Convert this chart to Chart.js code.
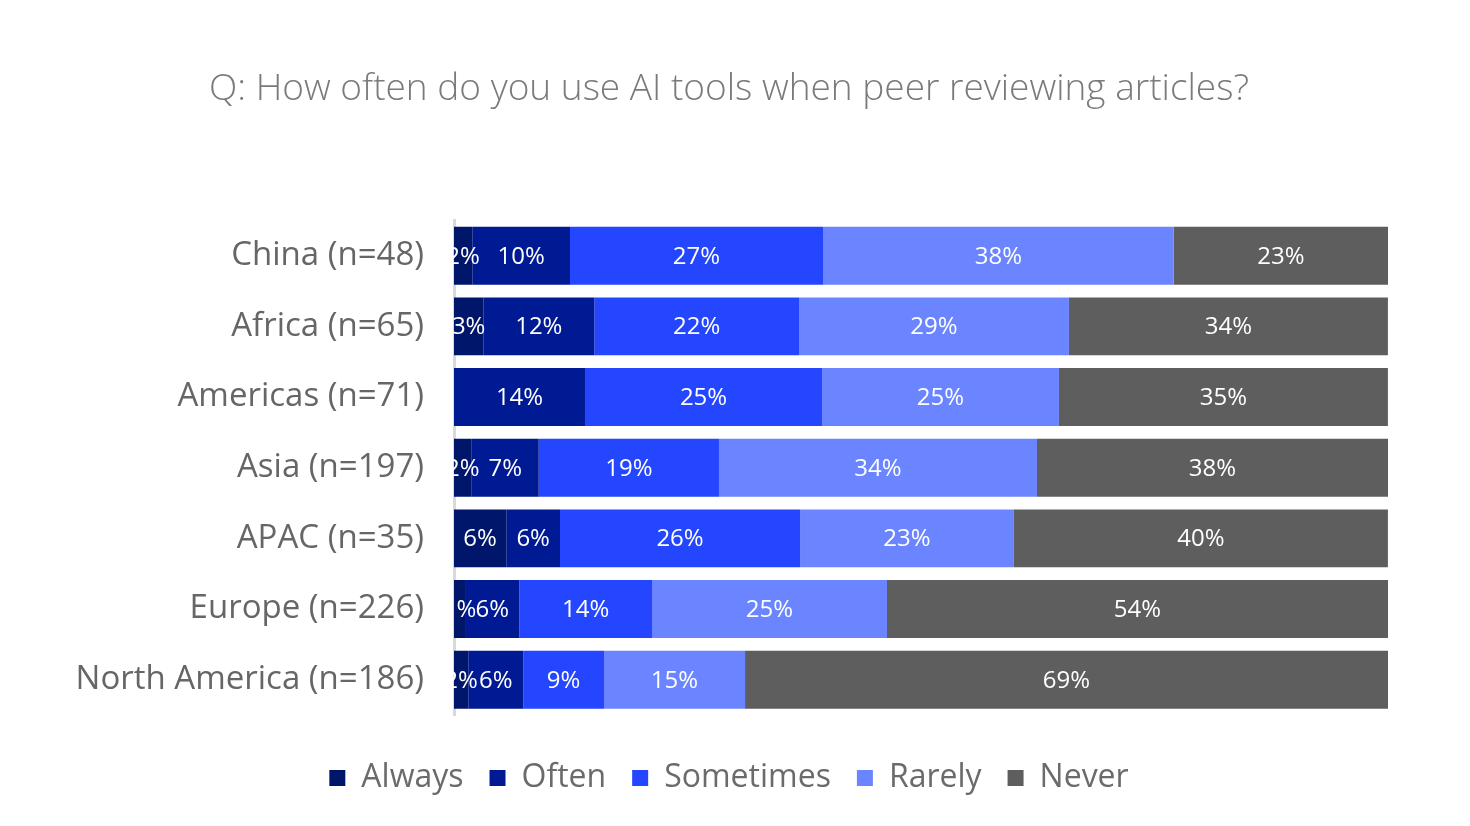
<!DOCTYPE html>
<html>
<head>
<meta charset="utf-8">
<script src="https://cdn.jsdelivr.net/npm/chart.js@4/dist/chart.umd.min.js"></script>
<style>
  html, body { margin: 0; padding: 0; background: #ffffff; }
  #wrap { width: 1470px; height: 826px; }
</style>
</head>
<body>
<div id="wrap"><canvas id="c" width="1470" height="826"></canvas></div>
<script>
const titleText = "Q: How often do you use AI tools when peer reviewing articles?";
const categories = ["China (n=48)", "Africa (n=65)", "Americas (n=71)", "Asia (n=197)", "APAC (n=35)", "Europe (n=226)", "North America (n=186)"];
const seriesNames = ["Always", "Often", "Sometimes", "Rarely", "Never"];
const always    = [1.96, 3.14, 0,     1.90,  5.60,  1.18,  1.53];
const often     = [10.46, 11.88, 14.03, 7.17, 5.75, 5.82,  5.89];
const sometimes = [27.09, 21.92, 25.37, 19.30, 25.70, 14.20, 8.64];
const rarely    = [37.55, 28.90, 25.37, 34.05, 22.90, 25.16, 15.10];
const never     = [22.94, 34.15, 35.22, 37.58, 40.04, 53.64, 68.84];
const seriesColors = ["#00166b", "#001a94", "#2446ff", "#6a85ff", "#5e5e5e"];

const FONT = "'Open Sans', Lato, 'DejaVu Sans', sans-serif";

const labelPlugin = {
  id: 'segLabels',
  afterDatasetsDraw(chart) {
    const ctx = chart.ctx;
    ctx.save();
    ctx.font = "24px " + FONT;
    ctx.fillStyle = "#ffffff";
    ctx.textAlign = "center";
    ctx.textBaseline = "middle";
    chart.data.datasets.forEach((ds, di) => {
      const meta = chart.getDatasetMeta(di);
      meta.data.forEach((el, i) => {
        const v = ds.data[i];
        if (!v) return;
        const x = (el.x + el.base) / 2;
        ctx.fillText(Math.round(v) + "%", x, el.y + 1);
      });
    });
    ctx.restore();
  }
};

const allSeries = [always, often, sometimes, rarely, never];

new Chart(document.getElementById('c'), {
  type: 'bar',
  data: {
    labels: categories,
    datasets: seriesNames.map((n, i) => ({
      label: n,
      data: allSeries[i],
      backgroundColor: seriesColors[i],
      borderWidth: 0,
      barPercentage: 0.82,
      categoryPercentage: 1.0
    }))
  },
  options: {
    indexAxis: 'y',
    responsive: false,
    animation: false,
    layout: { padding: { top: 67, bottom: 22, left: 70, right: 82 } },
    scales: {
      x: {
        stacked: true, min: 0, max: 100, display: true,
        ticks: { display: false },
        grid: { display: false, drawTicks: false },
        border: { display: false },
        afterFit(scale) { scale.height = 21; }
      },
      y: {
        stacked: true,
        grid: { display: false, drawTicks: false },
        border: { display: true, color: "#d9d9d9", width: 3 },
        ticks: { color: "#666666", font: { family: FONT, size: 33 }, padding: 30 },
        afterFit(scale) { scale.width = 384; }
      }
    },
    plugins: {
      title: {
        display: true,
        text: titleText,
        color: "#7a7a7a",
        font: { family: FONT, size: 37, weight: 300 },
        padding: { top: 0, bottom: 109 }
      },
      legend: {
        position: 'bottom',
        labels: {
          color: "#6b6b6b",
          font: { family: FONT, size: 32 },
          boxWidth: 16,
          boxHeight: 16,
          padding: 26
        }
      },
      tooltip: { enabled: false }
    }
  },
  plugins: [labelPlugin]
});
</script>
</body>
</html>
